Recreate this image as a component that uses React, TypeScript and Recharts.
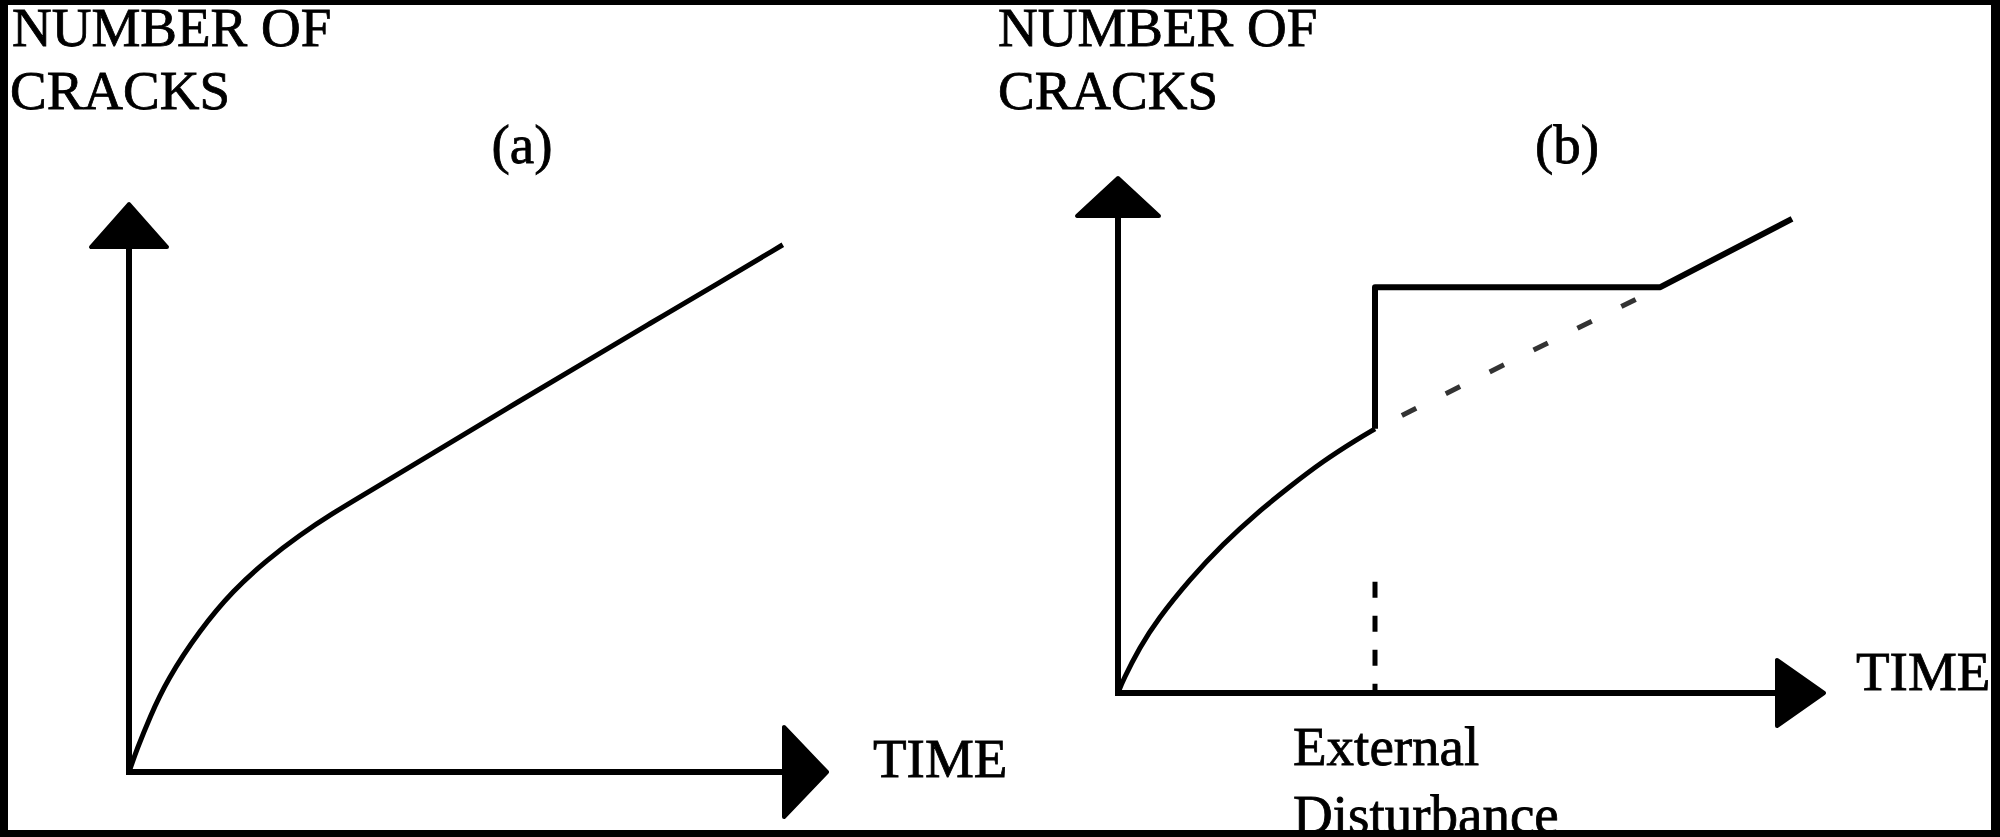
import React from "react";
import {
  LineChart,
  Line,
  XAxis,
  YAxis,
  ReferenceDot,
  ReferenceLine,
} from "recharts";

// panel (a): crack count grows steadily with time
const growthA = [
  { t: 0, n: 0 },
  { t: 1.1, n: 3.9 },
  { t: 3.0, n: 9.7 },
  { t: 5.4, n: 16.1 },
  { t: 10.1, n: 24.9 },
  { t: 14.9, n: 31.9 },
  { t: 19.7, n: 37.2 },
  { t: 24.4, n: 41.6 },
  { t: 29.1, n: 45.4 },
  { t: 34.0, n: 49.0 },
  { t: 43.4, n: 55.9 },
  { t: 54.0, n: 63.8 },
  { t: 64.9, n: 71.7 },
  { t: 74.4, n: 78.7 },
  { t: 84.0, n: 85.6 },
  { t: 93.4, n: 92.5 },
];

// panel (b): same growth until the external disturbance
const growthB = [
  { t: 0, n: 0 },
  { t: 0.7, n: 2.5 },
  { t: 3.1, n: 8.9 },
  { t: 5.5, n: 14.1 },
  { t: 10.2, n: 22.1 },
  { t: 14.8, n: 28.8 },
  { t: 19.6, n: 34.8 },
  { t: 24.3, n: 40.0 },
  { t: 29.0, n: 44.9 },
  { t: 33.8, n: 49.1 },
  { t: 36.3, n: 51.1 },
];

// jump at the disturbance, plateau, then the old trend again
const afterB = [
  { t: 36.3, n: 51.1 },
  { t: 36.3, n: 78.5 },
  { t: 76.6, n: 78.5 },
  { t: 95.2, n: 91.7 },
];

// where the curve would have gone without the disturbance
const trendB = [
  { t: 36.3, n: 51.1 },
  { t: 76.6, n: 78.5 },
];

const disturbanceTime = 36.3;
const disturbanceMarkTop = 21.5;

const FONT = '"Liberation Serif", "Times New Roman", serif';

const upArrow = (half: number, len: number) => (props: any) => {
  const { cx, cy } = props;
  return (
    <polygon
      points={`${cx},${cy + 2} ${cx - half},${cy + len} ${cx + half},${cy + len}`}
      fill="#000"
      stroke="#000"
      strokeWidth={4}
      strokeLinejoin="round"
    />
  );
};

const rightArrow = (half: number, len: number) => (props: any) => {
  const { cx, cy } = props;
  return (
    <polygon
      points={`${cx - 2},${cy} ${cx - len},${cy - half} ${cx - len},${cy + half}`}
      fill="#000"
      stroke="#000"
      strokeWidth={4}
      strokeLinejoin="round"
    />
  );
};

function PanelA() {
  return (
    <LineChart
      width={1000}
      height={837}
      margin={{ top: 202, right: 171, bottom: 65, left: 129 }}
      style={{ position: "absolute", left: 0, top: 0 }}
    >
      <XAxis type="number" dataKey="t" domain={[0, 100]} hide />
      <YAxis type="number" dataKey="n" domain={[0, 100]} hide />
      <ReferenceLine
        segment={[{ x: 0, y: 0 }, { x: 95, y: 0 }]}
        stroke="#000"
        strokeWidth={6}
        strokeLinecap="square"
      />
      <ReferenceLine
        segment={[{ x: 0, y: 0 }, { x: 0, y: 94 }]}
        stroke="#000"
        strokeWidth={6}
        strokeLinecap="square"
      />
      <Line
        data={growthA}
        dataKey="n"
        type="basis"
        stroke="#000"
        strokeWidth={5}
        dot={false}
        isAnimationActive={false}
      />
      <ReferenceDot x={0} y={100} r={0} shape={upArrow(38, 45)} />
      <ReferenceDot x={100} y={0} r={0} shape={rightArrow(45, 45)} />
    </LineChart>
  );
}

function PanelB() {
  return (
    <LineChart
      width={1000}
      height={837}
      margin={{ top: 176, right: 174, bottom: 144, left: 118 }}
      style={{ position: "absolute", left: 1000, top: 0 }}
    >
      <XAxis type="number" dataKey="t" domain={[0, 100]} hide />
      <YAxis type="number" dataKey="n" domain={[0, 100]} hide />
      <ReferenceLine
        segment={[{ x: 0, y: 0 }, { x: 95, y: 0 }]}
        stroke="#000"
        strokeWidth={6}
        strokeLinecap="square"
      />
      <ReferenceLine
        segment={[{ x: 0, y: 0 }, { x: 0, y: 94 }]}
        stroke="#000"
        strokeWidth={6}
        strokeLinecap="square"
      />
      <ReferenceLine
        segment={[
          { x: disturbanceTime, y: disturbanceMarkTop },
          { x: disturbanceTime, y: 0 },
        ]}
        stroke="#000"
        strokeWidth={5}
        strokeDasharray="16 18"
      />
      <Line
        data={trendB}
        dataKey="n"
        type="linear"
        stroke="#333"
        strokeWidth={5}
        strokeDasharray="16 33"
        strokeDashoffset={19}
        dot={false}
        isAnimationActive={false}
      />
      <Line
        data={growthB}
        dataKey="n"
        type="basis"
        stroke="#000"
        strokeWidth={5}
        dot={false}
        isAnimationActive={false}
      />
      <Line
        data={afterB}
        dataKey="n"
        type="linear"
        stroke="#000"
        strokeWidth={6}
        strokeLinejoin="round"
        dot={false}
        isAnimationActive={false}
      />
      <ReferenceDot x={0} y={100} r={0} shape={upArrow(41, 40)} />
      <ReferenceDot x={100} y={0} r={0} shape={rightArrow(33, 49)} />
    </LineChart>
  );
}

export default function App() {
  const text = {
    fontFamily: FONT,
    fontSize: 55,
    fill: "#000",
    stroke: "#000",
    strokeWidth: 0.8,
  };
  return (
    <div
      style={{
        position: "absolute",
        left: 0,
        top: 0,
        width: 2000,
        height: 837,
        overflow: "hidden",
        background: "#fff",
      }}
    >
      <PanelA />
      <PanelB />
      <svg
        width={2000}
        height={837}
        style={{ position: "absolute", left: 0, top: 0, pointerEvents: "none" }}
      >
        <text x={12} y={46} {...text}>NUMBER OF</text>
        <text x={10} y={109} {...text}>CRACKS</text>
        <text x={522} y={163} textAnchor="middle" {...text}>(a)</text>
        <text x={873} y={777} {...text}>TIME</text>

        <text x={998} y={46} {...text}>NUMBER OF</text>
        <text x={998} y={109} {...text}>CRACKS</text>
        <text x={1567} y={163} textAnchor="middle" {...text}>(b)</text>
        <text x={1856} y={690} {...text}>TIME</text>
        <text x={1293} y={765} {...text}>External</text>
        <text x={1293} y={833} {...text}>Disturbance</text>
      </svg>
      <div
        style={{
          position: "absolute",
          left: 0,
          top: 0,
          width: 2000,
          height: 837,
          boxSizing: "border-box",
          borderStyle: "solid",
          borderColor: "#000",
          borderWidth: "5px 9px 7px 8px",
          pointerEvents: "none",
        }}
      />
    </div>
  );
}
